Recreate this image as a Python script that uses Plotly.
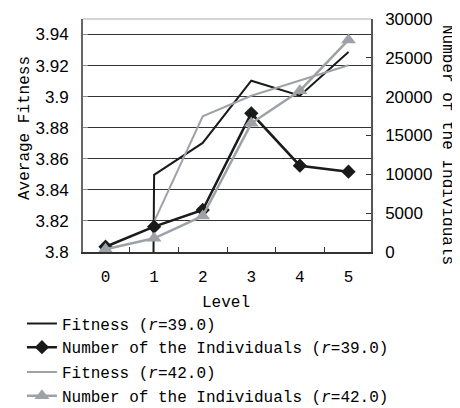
import plotly.graph_objects as go

levels = ["0", "1", "2", "3", "4", "5"]
fitness_r39 = [0, 3.8497, 3.8702, 3.9103, 3.9006, 3.9288]
fitness_r42 = [None, 3.8196, 3.8873, 3.9006, 3.9105, 3.9202]
number_r39 = [680, 3260, 5410, 17860, 11110, 10340]
number_r42 = [350, 1760, 4640, 16570, 20770, 27300]

left_ticks = [3.8, 3.82, 3.84, 3.86, 3.88, 3.9, 3.92, 3.94]
left_ticktext = ["3.8", "3.82", "3.84", "3.86", "3.88", "3.9", "3.92", "3.94"]
right_ticks = [0, 5000, 10000, 15000, 20000, 25000, 30000]
right_ticktext = ["0", "5000", "10000", "15000", "20000", "25000", "30000"]

BLACK = "#1a1a1a"
GRAY = "#9ea2a6"
MONO = "Liberation Mono, DejaVu Sans Mono, monospace"
SANS = "Liberation Sans, Arial, sans-serif"

fig = go.Figure()
fig.add_trace(go.Scatter(x=levels, y=fitness_r39, mode="lines", name="Fitness (<i>r</i>=39.0)",
                         line=dict(color=BLACK, width=2), yaxis="y", legendgroup="a"))
fig.add_trace(go.Scatter(x=levels, y=number_r39, mode="lines+markers",
                         name="Number of the Individuals (<i>r</i>=39.0)",
                         line=dict(color=BLACK, width=2.5),
                         marker=dict(symbol="diamond", size=11, color=BLACK),
                         yaxis="y2", legendgroup="a"))
fig.add_trace(go.Scatter(x=levels, y=fitness_r42, mode="lines", name="Fitness (<i>r</i>=42.0)",
                         line=dict(color=GRAY, width=2), yaxis="y", legendgroup="b"))
fig.add_trace(go.Scatter(x=levels, y=number_r42, mode="lines+markers",
                         name="Number of the Individuals (<i>r</i>=42.0)",
                         line=dict(color=GRAY, width=2.5),
                         marker=dict(symbol="triangle-up", size=13, color=GRAY),
                         yaxis="y2", legendgroup="b"))

# page body has an 8px default margin, so the figure is drawn 8px smaller
fig.update_layout(
    width=452, height=400,
    margin=dict(l=75, r=89, t=11, b=156, autoexpand=False),
    paper_bgcolor="white", plot_bgcolor="white",
    showlegend=True,
    legend=dict(x=-0.212, y=-0.234, xanchor="left", yanchor="top",
                font=dict(family=MONO, size=16, color="black"),
                tracegroupgap=1, bgcolor="rgba(0,0,0,0)"),
    xaxis=dict(type="category", categoryorder="array", categoryarray=levels,
               tickson="boundaries", ticks="inside", ticklen=5, tickcolor="#333",
               showline=True, linecolor="#333", linewidth=2, showgrid=False,
               tickfont=dict(family=MONO, size=16, color="black"),
               ticklabelstandoff=9),
    yaxis=dict(range=[3.8, 3.95], tickvals=left_ticks, ticktext=left_ticktext,
               ticks="inside", ticklen=5, tickcolor="#888",
               showline=True, linecolor="#666", linewidth=2,
               showgrid=True, gridcolor="#333", gridwidth=1, zeroline=False,
               tickfont=dict(family=SANS, size=17, color="black"),
               ticklabelstandoff=9),
    yaxis2=dict(range=[0, 30000], tickvals=right_ticks, ticktext=right_ticktext,
                overlaying="y", side="right",
                ticks="inside", ticklen=5, tickcolor="#333",
                showline=True, linecolor="#555", linewidth=1.5,
                showgrid=False, zeroline=False,
                tickfont=dict(family=SANS, size=17, color="black"),
                ticklabelstandoff=9),
    shapes=[dict(type="line", xref="paper", yref="paper", x0=0, x1=1, y0=1, y1=1,
                 line=dict(color="#aaaaaa", width=1))],
    annotations=[
        dict(text="Average Fitness", textangle=-90, xref="paper", yref="paper",
             x=(25 - 83) / 288, y=(252 - 128) / 233, showarrow=False,
             font=dict(family=MONO, size=16, color="black"), xanchor="center", yanchor="middle"),
        dict(text="Number of the Individuals", textangle=90, xref="paper", yref="paper",
             x=(447 - 83) / 288, y=(252 - 145) / 233, showarrow=False,
             font=dict(family=MONO, size=16, color="black"), xanchor="center", yanchor="middle"),
        dict(text="Level", xref="paper", yref="paper",
             x=(226 - 83) / 288, y=(252 - 303) / 233, showarrow=False,
             font=dict(family=MONO, size=16, color="black"), xanchor="center", yanchor="middle"),
    ],
)

fig.write_html("out.html")
